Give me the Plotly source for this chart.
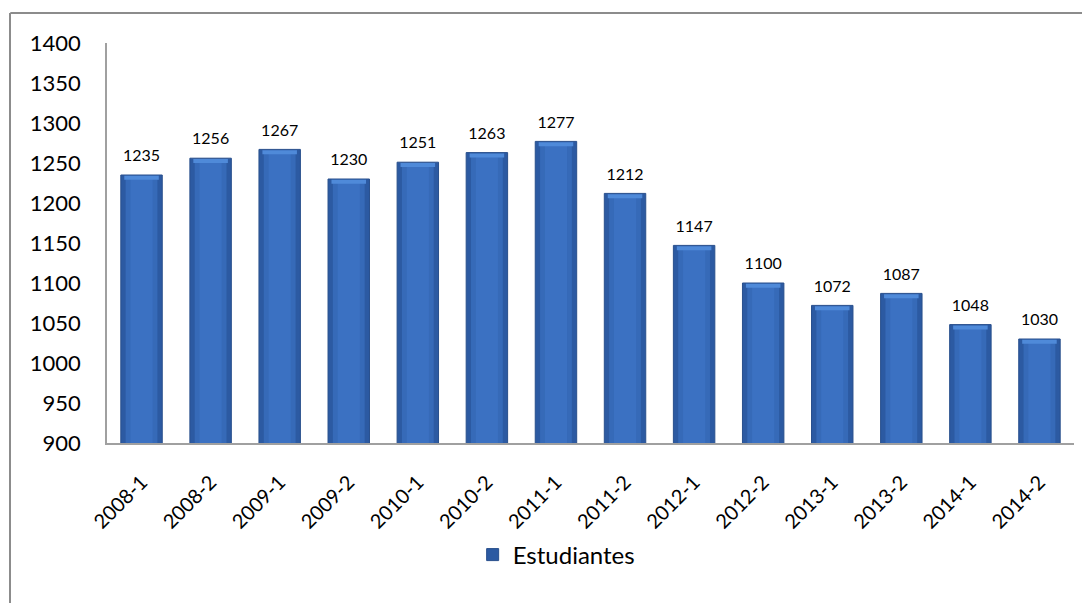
import plotly.graph_objects as go

# Datos
periodos = ["2008-1", "2008-2", "2009-1", "2009-2", "2010-1", "2010-2", "2011-1",
            "2011-2", "2012-1", "2012-2", "2013-1", "2013-2", "2014-1", "2014-2"]
estudiantes = [1235, 1256, 1267, 1230, 1251, 1263, 1277,
               1212, 1147, 1100, 1072, 1087, 1048, 1030]
y_ticks = [900, 950, 1000, 1050, 1100, 1150, 1200, 1250, 1300, 1350, 1400]

FONT = "Lato, 'Open Sans', sans-serif"

fig = go.Figure()

# barra base (borde oscuro, tipo bisel de Excel)
fig.add_trace(go.Bar(
    x=periodos, y=estudiantes, name="Estudiantes",
    width=0.6,
    marker=dict(color="#2C5AA2", line=dict(color="#284F8C", width=1)),
    showlegend=True, hoverinfo="skip",
))
# capas interiores mas claras para simular el degradado
fig.add_trace(go.Bar(
    x=periodos, y=[v - 3 for v in estudiantes],
    width=0.46,
    marker=dict(color="#366AB8", line=dict(width=0)),
    showlegend=False, hoverinfo="skip",
))
fig.add_trace(go.Bar(
    x=periodos, y=[v - 4 for v in estudiantes],
    width=0.32,
    marker=dict(color="#3B71C2", line=dict(width=0)),
    showlegend=False, hoverinfo="skip",
))
# brillo del bisel superior
fig.add_trace(go.Bar(
    x=periodos, y=[5] * len(estudiantes), base=[v - 6 for v in estudiantes],
    width=0.5,
    marker=dict(color="#4F8AD9", line=dict(width=0)),
    showlegend=False, hoverinfo="skip",
))
# etiquetas de datos
fig.add_trace(go.Scatter(
    x=periodos, y=estudiantes, mode="markers+text",
    marker=dict(size=14, opacity=0),
    text=[str(v) for v in estudiantes],
    textposition="top center",
    textfont=dict(size=16, color="#000000", family=FONT),
    showlegend=False, hoverinfo="skip", cliponaxis=False,
))

# el body de la pagina tiene 8 px de margen
fig.update_layout(
    width=1074, height=595,
    barmode="overlay",
    paper_bgcolor="white", plot_bgcolor="white",
    margin=dict(l=99, r=8, t=35, b=160),
    font=dict(family=FONT, size=20, color="#000000"),
    xaxis=dict(
        type="category", range=[-0.5, len(periodos) - 0.5],
        tickangle=-45, showgrid=False, showline=True,
        linecolor="#A0A0A0", linewidth=1.5, ticks="", ticklabelstandoff=18,
        tickfont=dict(size=20),
    ),
    yaxis=dict(
        range=[900, 1400], tickvals=y_ticks, showgrid=False, zeroline=False,
        showline=True, linecolor="#A0A0A0", linewidth=1.5, ticks="",
        ticklabelstandoff=20, tickfont=dict(size=22),
    ),
    legend=dict(
        orientation="h", x=0.465, xanchor="center", y=-0.28, yanchor="middle",
        font=dict(size=24), itemwidth=30, traceorder="normal",
    ),
    shapes=[
        dict(type="line", xref="paper", yref="paper", x0=-0.1, x1=1.1,
             y0=1.0 + 30 / 400, y1=1.0 + 30 / 400,
             line=dict(color="#8C8C8C", width=2)),
        dict(type="line", xref="paper", yref="paper",
             x0=-97 / 967, x1=-97 / 967, y0=1.0 + 30 / 400, y1=-1.0,
             line=dict(color="#8C8C8C", width=2)),
    ],
)

fig.write_html("out.html")
